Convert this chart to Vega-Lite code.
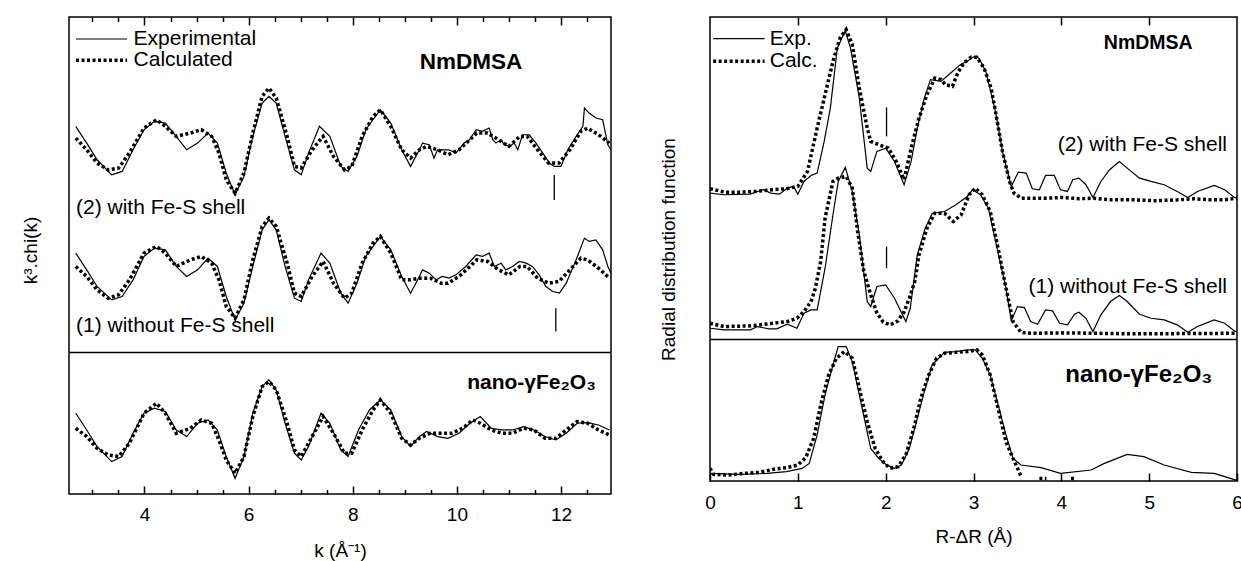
{
  "$schema": "https://vega.github.io/schema/vega-lite/v6.json",
  "background": "white",
  "padding": {"left": 20, "top": 15, "right": 2, "bottom": 0},
  "spacing": 45,
  "datasets": {
    "chi": [
      {"k":2.68,"v":36.74,"c":"2","t":"E"},{"k":2.89,"v":35.07,"c":"2","t":"E"},{"k":3.09,"v":33.40,"c":"2","t":"E"},{"k":3.37,"v":31.90,"c":"2","t":"E"},{"k":3.57,"v":32.24,"c":"2","t":"E"},{"k":3.78,"v":34.40,"c":"2","t":"E"},{"k":3.99,"v":36.40,"c":"2","t":"E"},{"k":4.19,"v":37.24,"c":"2","t":"E"},{"k":4.40,"v":37.07,"c":"2","t":"E"},{"k":4.61,"v":35.74,"c":"2","t":"E"},{"k":4.81,"v":34.40,"c":"2","t":"E"},{"k":5.02,"v":35.07,"c":"2","t":"E"},{"k":5.22,"v":36.07,"c":"2","t":"E"},{"k":5.40,"v":35.07,"c":"2","t":"E"},{"k":5.57,"v":32.07,"c":"2","t":"E"},{"k":5.74,"v":29.90,"c":"2","t":"E"},{"k":5.91,"v":31.74,"c":"2","t":"E"},{"k":6.08,"v":35.74,"c":"2","t":"E"},{"k":6.26,"v":39.07,"c":"2","t":"E"},{"k":6.39,"v":39.74,"c":"2","t":"E"},{"k":6.53,"v":39.07,"c":"2","t":"E"},{"k":6.70,"v":35.74,"c":"2","t":"E"},{"k":6.88,"v":32.40,"c":"2","t":"E"},{"k":7.01,"v":31.90,"c":"2","t":"E"},{"k":7.15,"v":34.07,"c":"2","t":"E"},{"k":7.36,"v":36.74,"c":"2","t":"E"},{"k":7.56,"v":35.74,"c":"2","t":"E"},{"k":7.77,"v":32.74,"c":"2","t":"E"},{"k":7.91,"v":32.24,"c":"2","t":"E"},{"k":8.08,"v":33.74,"c":"2","t":"E"},{"k":8.25,"v":36.40,"c":"2","t":"E"},{"k":8.53,"v":38.40,"c":"2","t":"E"},{"k":8.73,"v":37.07,"c":"2","t":"E"},{"k":8.94,"v":34.40,"c":"2","t":"E"},{"k":9.11,"v":32.74,"c":"2","t":"E"},{"k":9.28,"v":34.40,"c":"2","t":"E"},{"k":9.34,"v":35.07,"c":"2","t":"E"},{"k":9.47,"v":34.90,"c":"2","t":"E"},{"k":9.56,"v":33.57,"c":"2","t":"E"},{"k":9.63,"v":34.40,"c":"2","t":"E"},{"k":9.85,"v":34.40,"c":"2","t":"E"},{"k":9.98,"v":34.07,"c":"2","t":"E"},{"k":10.14,"v":35.07,"c":"2","t":"E"},{"k":10.24,"v":35.40,"c":"2","t":"E"},{"k":10.37,"v":36.40,"c":"2","t":"E"},{"k":10.49,"v":36.24,"c":"2","t":"E"},{"k":10.62,"v":36.57,"c":"2","t":"E"},{"k":10.69,"v":35.40,"c":"2","t":"E"},{"k":10.75,"v":35.07,"c":"2","t":"E"},{"k":10.85,"v":35.40,"c":"2","t":"E"},{"k":10.91,"v":34.90,"c":"2","t":"E"},{"k":11.01,"v":34.74,"c":"2","t":"E"},{"k":11.10,"v":35.07,"c":"2","t":"E"},{"k":11.17,"v":34.40,"c":"2","t":"E"},{"k":11.26,"v":35.90,"c":"2","t":"E"},{"k":11.39,"v":35.90,"c":"2","t":"E"},{"k":11.52,"v":35.07,"c":"2","t":"E"},{"k":11.65,"v":34.07,"c":"2","t":"E"},{"k":11.78,"v":33.07,"c":"2","t":"E"},{"k":11.87,"v":32.74,"c":"2","t":"E"},{"k":12.00,"v":32.74,"c":"2","t":"E"},{"k":12.13,"v":34.40,"c":"2","t":"E"},{"k":12.29,"v":35.74,"c":"2","t":"E"},{"k":12.42,"v":36.74,"c":"2","t":"E"},{"k":12.45,"v":38.57,"c":"2","t":"E"},{"k":12.54,"v":38.07,"c":"2","t":"E"},{"k":12.67,"v":37.57,"c":"2","t":"E"},{"k":12.80,"v":37.40,"c":"2","t":"E"},{"k":12.90,"v":34.90,"c":"2","t":"E"},{"k":12.96,"v":34.40,"c":"2","t":"E"},

      {"k":2.68,"v":35.57,"c":"2","t":"C"},{"k":2.89,"v":34.40,"c":"2","t":"C"},{"k":3.09,"v":33.07,"c":"2","t":"C"},{"k":3.30,"v":32.40,"c":"2","t":"C"},{"k":3.50,"v":32.57,"c":"2","t":"C"},{"k":3.71,"v":34.07,"c":"2","t":"C"},{"k":3.99,"v":36.57,"c":"2","t":"C"},{"k":4.23,"v":37.40,"c":"2","t":"C"},{"k":4.40,"v":36.74,"c":"2","t":"C"},{"k":4.61,"v":35.74,"c":"2","t":"C"},{"k":4.88,"v":36.07,"c":"2","t":"C"},{"k":5.09,"v":36.40,"c":"2","t":"C"},{"k":5.29,"v":35.74,"c":"2","t":"C"},{"k":5.43,"v":34.07,"c":"2","t":"C"},{"k":5.57,"v":31.40,"c":"2","t":"C"},{"k":5.74,"v":30.07,"c":"2","t":"C"},{"k":5.91,"v":32.07,"c":"2","t":"C"},{"k":6.08,"v":36.07,"c":"2","t":"C"},{"k":6.26,"v":39.74,"c":"2","t":"C"},{"k":6.39,"v":40.57,"c":"2","t":"C"},{"k":6.53,"v":39.57,"c":"2","t":"C"},{"k":6.74,"v":35.74,"c":"2","t":"C"},{"k":6.88,"v":32.74,"c":"2","t":"C"},{"k":7.01,"v":32.57,"c":"2","t":"C"},{"k":7.22,"v":34.40,"c":"2","t":"C"},{"k":7.43,"v":35.74,"c":"2","t":"C"},{"k":7.63,"v":33.74,"c":"2","t":"C"},{"k":7.84,"v":32.40,"c":"2","t":"C"},{"k":7.98,"v":32.74,"c":"2","t":"C"},{"k":8.18,"v":35.74,"c":"2","t":"C"},{"k":8.39,"v":37.74,"c":"2","t":"C"},{"k":8.53,"v":38.40,"c":"2","t":"C"},{"k":8.73,"v":36.74,"c":"2","t":"C"},{"k":8.94,"v":34.40,"c":"2","t":"C"},{"k":9.11,"v":33.57,"c":"2","t":"C"},{"k":9.28,"v":34.40,"c":"2","t":"C"},{"k":9.42,"v":34.74,"c":"2","t":"C"},{"k":9.63,"v":34.40,"c":"2","t":"C"},{"k":9.83,"v":33.90,"c":"2","t":"C"},{"k":10.04,"v":34.40,"c":"2","t":"C"},{"k":10.25,"v":35.40,"c":"2","t":"C"},{"k":10.38,"v":36.07,"c":"2","t":"C"},{"k":10.59,"v":36.07,"c":"2","t":"C"},{"k":10.80,"v":35.40,"c":"2","t":"C"},{"k":11.00,"v":34.74,"c":"2","t":"C"},{"k":11.21,"v":35.74,"c":"2","t":"C"},{"k":11.35,"v":35.74,"c":"2","t":"C"},{"k":11.55,"v":34.40,"c":"2","t":"C"},{"k":11.76,"v":33.07,"c":"2","t":"C"},{"k":11.96,"v":33.07,"c":"2","t":"C"},{"k":12.17,"v":34.40,"c":"2","t":"C"},{"k":12.38,"v":36.24,"c":"2","t":"C"},{"k":12.51,"v":36.57,"c":"2","t":"C"},{"k":12.72,"v":35.90,"c":"2","t":"C"},{"k":12.93,"v":35.07,"c":"2","t":"C"},

      {"k":2.68,"v":24.07,"c":"1","t":"E"},{"k":2.89,"v":22.40,"c":"1","t":"E"},{"k":3.09,"v":20.74,"c":"1","t":"E"},{"k":3.37,"v":19.40,"c":"1","t":"E"},{"k":3.57,"v":19.74,"c":"1","t":"E"},{"k":3.78,"v":21.40,"c":"1","t":"E"},{"k":3.99,"v":23.74,"c":"1","t":"E"},{"k":4.19,"v":24.57,"c":"1","t":"E"},{"k":4.40,"v":24.40,"c":"1","t":"E"},{"k":4.61,"v":22.74,"c":"1","t":"E"},{"k":4.81,"v":21.74,"c":"1","t":"E"},{"k":5.02,"v":22.40,"c":"1","t":"E"},{"k":5.22,"v":23.57,"c":"1","t":"E"},{"k":5.40,"v":22.74,"c":"1","t":"E"},{"k":5.57,"v":19.74,"c":"1","t":"E"},{"k":5.74,"v":17.40,"c":"1","t":"E"},{"k":5.91,"v":19.07,"c":"1","t":"E"},{"k":6.08,"v":22.74,"c":"1","t":"E"},{"k":6.26,"v":26.40,"c":"1","t":"E"},{"k":6.39,"v":27.40,"c":"1","t":"E"},{"k":6.53,"v":26.40,"c":"1","t":"E"},{"k":6.70,"v":22.74,"c":"1","t":"E"},{"k":6.88,"v":19.57,"c":"1","t":"E"},{"k":7.01,"v":19.24,"c":"1","t":"E"},{"k":7.15,"v":21.40,"c":"1","t":"E"},{"k":7.39,"v":24.07,"c":"1","t":"E"},{"k":7.56,"v":23.07,"c":"1","t":"E"},{"k":7.77,"v":20.07,"c":"1","t":"E"},{"k":7.91,"v":19.07,"c":"1","t":"E"},{"k":8.08,"v":21.07,"c":"1","t":"E"},{"k":8.25,"v":23.74,"c":"1","t":"E"},{"k":8.53,"v":25.74,"c":"1","t":"E"},{"k":8.73,"v":24.40,"c":"1","t":"E"},{"k":8.94,"v":21.74,"c":"1","t":"E"},{"k":9.11,"v":20.07,"c":"1","t":"E"},{"k":9.28,"v":21.74,"c":"1","t":"E"},{"k":9.34,"v":22.40,"c":"1","t":"E"},{"k":9.47,"v":22.07,"c":"1","t":"E"},{"k":9.60,"v":21.40,"c":"1","t":"E"},{"k":9.72,"v":21.74,"c":"1","t":"E"},{"k":9.85,"v":21.57,"c":"1","t":"E"},{"k":9.98,"v":21.90,"c":"1","t":"E"},{"k":10.17,"v":22.74,"c":"1","t":"E"},{"k":10.37,"v":23.90,"c":"1","t":"E"},{"k":10.49,"v":23.74,"c":"1","t":"E"},{"k":10.62,"v":24.07,"c":"1","t":"E"},{"k":10.72,"v":22.74,"c":"1","t":"E"},{"k":10.85,"v":23.07,"c":"1","t":"E"},{"k":10.94,"v":22.40,"c":"1","t":"E"},{"k":11.07,"v":22.74,"c":"1","t":"E"},{"k":11.20,"v":23.24,"c":"1","t":"E"},{"k":11.33,"v":23.07,"c":"1","t":"E"},{"k":11.45,"v":22.74,"c":"1","t":"E"},{"k":11.58,"v":21.90,"c":"1","t":"E"},{"k":11.71,"v":20.74,"c":"1","t":"E"},{"k":11.84,"v":20.24,"c":"1","t":"E"},{"k":11.97,"v":20.07,"c":"1","t":"E"},{"k":12.10,"v":21.07,"c":"1","t":"E"},{"k":12.29,"v":23.40,"c":"1","t":"E"},{"k":12.45,"v":25.57,"c":"1","t":"E"},{"k":12.54,"v":25.24,"c":"1","t":"E"},{"k":12.67,"v":25.40,"c":"1","t":"E"},{"k":12.80,"v":24.40,"c":"1","t":"E"},{"k":12.90,"v":22.74,"c":"1","t":"E"},{"k":12.96,"v":22.07,"c":"1","t":"E"},

      {"k":2.68,"v":22.74,"c":"1","t":"C"},{"k":2.89,"v":21.74,"c":"1","t":"C"},{"k":3.09,"v":20.40,"c":"1","t":"C"},{"k":3.30,"v":19.57,"c":"1","t":"C"},{"k":3.50,"v":19.90,"c":"1","t":"C"},{"k":3.71,"v":21.40,"c":"1","t":"C"},{"k":3.99,"v":24.07,"c":"1","t":"C"},{"k":4.23,"v":24.74,"c":"1","t":"C"},{"k":4.40,"v":24.07,"c":"1","t":"C"},{"k":4.61,"v":22.74,"c":"1","t":"C"},{"k":4.88,"v":23.40,"c":"1","t":"C"},{"k":5.09,"v":23.74,"c":"1","t":"C"},{"k":5.29,"v":23.07,"c":"1","t":"C"},{"k":5.43,"v":21.40,"c":"1","t":"C"},{"k":5.57,"v":18.74,"c":"1","t":"C"},{"k":5.74,"v":17.57,"c":"1","t":"C"},{"k":5.91,"v":19.40,"c":"1","t":"C"},{"k":6.08,"v":23.40,"c":"1","t":"C"},{"k":6.26,"v":26.74,"c":"1","t":"C"},{"k":6.39,"v":27.57,"c":"1","t":"C"},{"k":6.53,"v":26.74,"c":"1","t":"C"},{"k":6.74,"v":23.07,"c":"1","t":"C"},{"k":6.88,"v":20.07,"c":"1","t":"C"},{"k":7.01,"v":19.74,"c":"1","t":"C"},{"k":7.22,"v":21.74,"c":"1","t":"C"},{"k":7.43,"v":23.24,"c":"1","t":"C"},{"k":7.63,"v":21.07,"c":"1","t":"C"},{"k":7.84,"v":19.57,"c":"1","t":"C"},{"k":7.98,"v":20.07,"c":"1","t":"C"},{"k":8.18,"v":23.07,"c":"1","t":"C"},{"k":8.39,"v":25.07,"c":"1","t":"C"},{"k":8.53,"v":25.74,"c":"1","t":"C"},{"k":8.73,"v":24.07,"c":"1","t":"C"},{"k":8.94,"v":21.40,"c":"1","t":"C"},{"k":9.11,"v":21.40,"c":"1","t":"C"},{"k":9.28,"v":21.57,"c":"1","t":"C"},{"k":9.49,"v":21.57,"c":"1","t":"C"},{"k":9.70,"v":21.07,"c":"1","t":"C"},{"k":9.83,"v":21.07,"c":"1","t":"C"},{"k":10.04,"v":21.74,"c":"1","t":"C"},{"k":10.25,"v":22.74,"c":"1","t":"C"},{"k":10.38,"v":23.40,"c":"1","t":"C"},{"k":10.59,"v":23.24,"c":"1","t":"C"},{"k":10.80,"v":22.40,"c":"1","t":"C"},{"k":11.00,"v":21.90,"c":"1","t":"C"},{"k":11.21,"v":22.74,"c":"1","t":"C"},{"k":11.35,"v":22.74,"c":"1","t":"C"},{"k":11.55,"v":21.57,"c":"1","t":"C"},{"k":11.76,"v":21.07,"c":"1","t":"C"},{"k":11.96,"v":21.24,"c":"1","t":"C"},{"k":12.17,"v":22.40,"c":"1","t":"C"},{"k":12.38,"v":23.57,"c":"1","t":"C"},{"k":12.51,"v":23.40,"c":"1","t":"C"},{"k":12.72,"v":22.57,"c":"1","t":"C"},{"k":12.93,"v":21.57,"c":"1","t":"C"},

      {"k":2.68,"v":8.07,"c":"n","t":"E"},{"k":2.89,"v":6.40,"c":"n","t":"E"},{"k":3.09,"v":4.74,"c":"n","t":"E"},{"k":3.37,"v":3.24,"c":"n","t":"E"},{"k":3.57,"v":3.74,"c":"n","t":"E"},{"k":3.78,"v":6.07,"c":"n","t":"E"},{"k":3.99,"v":8.07,"c":"n","t":"E"},{"k":4.19,"v":8.57,"c":"n","t":"E"},{"k":4.40,"v":8.24,"c":"n","t":"E"},{"k":4.61,"v":6.40,"c":"n","t":"E"},{"k":4.81,"v":5.74,"c":"n","t":"E"},{"k":5.02,"v":7.07,"c":"n","t":"E"},{"k":5.22,"v":7.40,"c":"n","t":"E"},{"k":5.40,"v":6.40,"c":"n","t":"E"},{"k":5.57,"v":3.74,"c":"n","t":"E"},{"k":5.74,"v":1.57,"c":"n","t":"E"},{"k":5.91,"v":3.74,"c":"n","t":"E"},{"k":6.08,"v":8.07,"c":"n","t":"E"},{"k":6.26,"v":10.74,"c":"n","t":"E"},{"k":6.39,"v":11.40,"c":"n","t":"E"},{"k":6.53,"v":10.40,"c":"n","t":"E"},{"k":6.70,"v":7.07,"c":"n","t":"E"},{"k":6.88,"v":4.07,"c":"n","t":"E"},{"k":7.01,"v":3.40,"c":"n","t":"E"},{"k":7.15,"v":4.74,"c":"n","t":"E"},{"k":7.39,"v":8.07,"c":"n","t":"E"},{"k":7.56,"v":7.07,"c":"n","t":"E"},{"k":7.77,"v":4.40,"c":"n","t":"E"},{"k":7.91,"v":3.74,"c":"n","t":"E"},{"k":8.11,"v":6.40,"c":"n","t":"E"},{"k":8.32,"v":8.40,"c":"n","t":"E"},{"k":8.53,"v":9.40,"c":"n","t":"E"},{"k":8.73,"v":8.40,"c":"n","t":"E"},{"k":8.94,"v":5.74,"c":"n","t":"E"},{"k":9.11,"v":4.74,"c":"n","t":"E"},{"k":9.28,"v":5.74,"c":"n","t":"E"},{"k":9.42,"v":6.24,"c":"n","t":"E"},{"k":9.63,"v":5.74,"c":"n","t":"E"},{"k":9.83,"v":5.57,"c":"n","t":"E"},{"k":10.04,"v":6.07,"c":"n","t":"E"},{"k":10.25,"v":7.07,"c":"n","t":"E"},{"k":10.45,"v":7.74,"c":"n","t":"E"},{"k":10.66,"v":6.57,"c":"n","t":"E"},{"k":10.86,"v":6.40,"c":"n","t":"E"},{"k":11.07,"v":6.40,"c":"n","t":"E"},{"k":11.28,"v":6.74,"c":"n","t":"E"},{"k":11.48,"v":6.40,"c":"n","t":"E"},{"k":11.69,"v":5.74,"c":"n","t":"E"},{"k":11.90,"v":5.40,"c":"n","t":"E"},{"k":12.10,"v":6.07,"c":"n","t":"E"},{"k":12.31,"v":7.07,"c":"n","t":"E"},{"k":12.51,"v":7.14,"c":"n","t":"E"},{"k":12.72,"v":6.90,"c":"n","t":"E"},{"k":12.93,"v":6.40,"c":"n","t":"E"},

      {"k":2.68,"v":6.57,"c":"n","t":"C"},{"k":2.89,"v":5.74,"c":"n","t":"C"},{"k":3.09,"v":4.57,"c":"n","t":"C"},{"k":3.30,"v":3.90,"c":"n","t":"C"},{"k":3.50,"v":3.74,"c":"n","t":"C"},{"k":3.71,"v":5.07,"c":"n","t":"C"},{"k":3.99,"v":8.07,"c":"n","t":"C"},{"k":4.23,"v":9.07,"c":"n","t":"C"},{"k":4.40,"v":8.07,"c":"n","t":"C"},{"k":4.61,"v":6.07,"c":"n","t":"C"},{"k":4.88,"v":6.57,"c":"n","t":"C"},{"k":5.09,"v":7.40,"c":"n","t":"C"},{"k":5.29,"v":7.07,"c":"n","t":"C"},{"k":5.43,"v":5.40,"c":"n","t":"C"},{"k":5.57,"v":3.40,"c":"n","t":"C"},{"k":5.74,"v":2.07,"c":"n","t":"C"},{"k":5.91,"v":3.74,"c":"n","t":"C"},{"k":6.08,"v":7.74,"c":"n","t":"C"},{"k":6.26,"v":10.74,"c":"n","t":"C"},{"k":6.39,"v":11.24,"c":"n","t":"C"},{"k":6.53,"v":10.40,"c":"n","t":"C"},{"k":6.74,"v":7.07,"c":"n","t":"C"},{"k":6.88,"v":4.40,"c":"n","t":"C"},{"k":7.01,"v":3.74,"c":"n","t":"C"},{"k":7.22,"v":5.74,"c":"n","t":"C"},{"k":7.43,"v":7.74,"c":"n","t":"C"},{"k":7.63,"v":6.07,"c":"n","t":"C"},{"k":7.84,"v":4.07,"c":"n","t":"C"},{"k":7.98,"v":4.07,"c":"n","t":"C"},{"k":8.18,"v":6.40,"c":"n","t":"C"},{"k":8.39,"v":8.40,"c":"n","t":"C"},{"k":8.53,"v":9.40,"c":"n","t":"C"},{"k":8.73,"v":8.07,"c":"n","t":"C"},{"k":8.94,"v":5.57,"c":"n","t":"C"},{"k":9.11,"v":4.90,"c":"n","t":"C"},{"k":9.28,"v":5.57,"c":"n","t":"C"},{"k":9.49,"v":6.07,"c":"n","t":"C"},{"k":9.70,"v":6.07,"c":"n","t":"C"},{"k":9.90,"v":6.07,"c":"n","t":"C"},{"k":10.11,"v":6.57,"c":"n","t":"C"},{"k":10.31,"v":7.40,"c":"n","t":"C"},{"k":10.45,"v":7.07,"c":"n","t":"C"},{"k":10.66,"v":6.40,"c":"n","t":"C"},{"k":10.86,"v":6.07,"c":"n","t":"C"},{"k":11.07,"v":6.07,"c":"n","t":"C"},{"k":11.28,"v":6.57,"c":"n","t":"C"},{"k":11.48,"v":6.40,"c":"n","t":"C"},{"k":11.69,"v":5.57,"c":"n","t":"C"},{"k":11.90,"v":5.57,"c":"n","t":"C"},{"k":12.10,"v":6.40,"c":"n","t":"C"},{"k":12.31,"v":7.24,"c":"n","t":"C"},{"k":12.51,"v":7.07,"c":"n","t":"C"},{"k":12.72,"v":6.40,"c":"n","t":"C"},{"k":12.93,"v":5.90,"c":"n","t":"C"}
    ],
    "rdf": [
      {"r":0,"v":28.76,"c":"2","t":"E"},{"r":0.16,"v":28.60,"c":"2","t":"E"},{"r":0.46,"v":28.66,"c":"2","t":"E"},{"r":0.54,"v":28.93,"c":"2","t":"E"},{"r":0.61,"v":29.10,"c":"2","t":"E"},{"r":0.69,"v":28.76,"c":"2","t":"E"},{"r":0.79,"v":28.66,"c":"2","t":"E"},{"r":0.88,"v":29.26,"c":"2","t":"E"},{"r":0.95,"v":29.43,"c":"2","t":"E"},{"r":1.00,"v":28.66,"c":"2","t":"E"},{"r":1.07,"v":29.93,"c":"2","t":"E"},{"r":1.15,"v":30.53,"c":"2","t":"E"},{"r":1.22,"v":30.76,"c":"2","t":"E"},{"r":1.30,"v":33.93,"c":"2","t":"E"},{"r":1.37,"v":37.26,"c":"2","t":"E"},{"r":1.45,"v":43.26,"c":"2","t":"E"},{"r":1.54,"v":44.99,"c":"2","t":"E"},{"r":1.60,"v":43.26,"c":"2","t":"E"},{"r":1.70,"v":38.26,"c":"2","t":"E"},{"r":1.79,"v":31.26,"c":"2","t":"E"},{"r":1.83,"v":30.93,"c":"2","t":"E"},{"r":1.90,"v":32.93,"c":"2","t":"E"},{"r":2.00,"v":33.26,"c":"2","t":"E"},{"r":2.10,"v":31.93,"c":"2","t":"E"},{"r":2.21,"v":29.60,"c":"2","t":"E"},{"r":2.29,"v":31.93,"c":"2","t":"E"},{"r":2.36,"v":35.26,"c":"2","t":"E"},{"r":2.44,"v":38.26,"c":"2","t":"E"},{"r":2.51,"v":40.10,"c":"2","t":"E"},{"r":2.63,"v":39.93,"c":"2","t":"E"},{"r":2.74,"v":40.76,"c":"2","t":"E"},{"r":2.85,"v":41.60,"c":"2","t":"E"},{"r":2.93,"v":41.93,"c":"2","t":"E"},{"r":3.01,"v":42.43,"c":"2","t":"E"},{"r":3.06,"v":42.26,"c":"2","t":"E"},{"r":3.14,"v":40.93,"c":"2","t":"E"},{"r":3.25,"v":36.93,"c":"2","t":"E"},{"r":3.33,"v":32.93,"c":"2","t":"E"},{"r":3.43,"v":29.43,"c":"2","t":"E"},{"r":3.51,"v":30.86,"c":"2","t":"E"},{"r":3.60,"v":30.76,"c":"2","t":"E"},{"r":3.67,"v":29.20,"c":"2","t":"E"},{"r":3.75,"v":29.10,"c":"2","t":"E"},{"r":3.82,"v":30.53,"c":"2","t":"E"},{"r":3.92,"v":30.53,"c":"2","t":"E"},{"r":3.99,"v":29.10,"c":"2","t":"E"},{"r":4.07,"v":28.93,"c":"2","t":"E"},{"r":4.13,"v":30.10,"c":"2","t":"E"},{"r":4.20,"v":30.26,"c":"2","t":"E"},{"r":4.28,"v":29.60,"c":"2","t":"E"},{"r":4.36,"v":28.33,"c":"2","t":"E"},{"r":4.45,"v":29.93,"c":"2","t":"E"},{"r":4.55,"v":31.10,"c":"2","t":"E"},{"r":4.66,"v":31.93,"c":"2","t":"E"},{"r":4.75,"v":31.26,"c":"2","t":"E"},{"r":4.89,"v":30.26,"c":"2","t":"E"},{"r":5.02,"v":29.93,"c":"2","t":"E"},{"r":5.17,"v":29.60,"c":"2","t":"E"},{"r":5.32,"v":28.93,"c":"2","t":"E"},{"r":5.44,"v":28.33,"c":"2","t":"E"},{"r":5.55,"v":28.93,"c":"2","t":"E"},{"r":5.74,"v":29.53,"c":"2","t":"E"},{"r":5.86,"v":29.10,"c":"2","t":"E"},{"r":5.97,"v":28.33,"c":"2","t":"E"},{"r":6.0,"v":28.26,"c":"2","t":"E"},

      {"r":0,"v":29.20,"c":"2","t":"C"},{"r":0.17,"v":28.86,"c":"2","t":"C"},{"r":0.35,"v":28.86,"c":"2","t":"C"},{"r":0.52,"v":28.93,"c":"2","t":"C"},{"r":0.70,"v":29.10,"c":"2","t":"C"},{"r":0.87,"v":29.20,"c":"2","t":"C"},{"r":1.00,"v":29.43,"c":"2","t":"C"},{"r":1.11,"v":30.93,"c":"2","t":"C"},{"r":1.22,"v":35.26,"c":"2","t":"C"},{"r":1.31,"v":38.60,"c":"2","t":"C"},{"r":1.40,"v":41.93,"c":"2","t":"C"},{"r":1.48,"v":44.26,"c":"2","t":"C"},{"r":1.55,"v":45.10,"c":"2","t":"C"},{"r":1.62,"v":43.60,"c":"2","t":"C"},{"r":1.70,"v":39.26,"c":"2","t":"C"},{"r":1.79,"v":35.26,"c":"2","t":"C"},{"r":1.83,"v":33.93,"c":"2","t":"C"},{"r":1.92,"v":33.60,"c":"2","t":"C"},{"r":2.03,"v":33.26,"c":"2","t":"C"},{"r":2.12,"v":31.93,"c":"2","t":"C"},{"r":2.21,"v":30.10,"c":"2","t":"C"},{"r":2.29,"v":33.26,"c":"2","t":"C"},{"r":2.38,"v":36.26,"c":"2","t":"C"},{"r":2.47,"v":38.60,"c":"2","t":"C"},{"r":2.56,"v":40.26,"c":"2","t":"C"},{"r":2.63,"v":40.10,"c":"2","t":"C"},{"r":2.68,"v":39.60,"c":"2","t":"C"},{"r":2.76,"v":39.43,"c":"2","t":"C"},{"r":2.82,"v":40.76,"c":"2","t":"C"},{"r":2.89,"v":41.76,"c":"2","t":"C"},{"r":2.97,"v":42.33,"c":"2","t":"C"},{"r":3.04,"v":42.33,"c":"2","t":"C"},{"r":3.12,"v":41.26,"c":"2","t":"C"},{"r":3.20,"v":39.26,"c":"2","t":"C"},{"r":3.25,"v":36.93,"c":"2","t":"C"},{"r":3.33,"v":32.93,"c":"2","t":"C"},{"r":3.41,"v":29.93,"c":"2","t":"C"},{"r":3.46,"v":28.76,"c":"2","t":"C"},{"r":3.54,"v":28.26,"c":"2","t":"C"},{"r":3.85,"v":28.26,"c":"2","t":"C"},{"r":4.02,"v":28.33,"c":"2","t":"C"},{"r":4.20,"v":28.20,"c":"2","t":"C"},{"r":4.37,"v":28.26,"c":"2","t":"C"},{"r":4.55,"v":28.10,"c":"2","t":"C"},{"r":4.81,"v":28.10,"c":"2","t":"C"},{"r":5.07,"v":28.00,"c":"2","t":"C"},{"r":5.34,"v":28.10,"c":"2","t":"C"},{"r":5.51,"v":28.20,"c":"2","t":"C"},{"r":5.69,"v":28.10,"c":"2","t":"C"},{"r":5.86,"v":28.10,"c":"2","t":"C"},{"r":6.0,"v":28.26,"c":"2","t":"C"},

      {"r":0,"v":15.26,"c":"1","t":"E"},{"r":0.16,"v":15.10,"c":"1","t":"E"},{"r":0.46,"v":15.10,"c":"1","t":"E"},{"r":0.54,"v":15.43,"c":"1","t":"E"},{"r":0.67,"v":15.20,"c":"1","t":"E"},{"r":0.76,"v":15.20,"c":"1","t":"E"},{"r":0.88,"v":15.66,"c":"1","t":"E"},{"r":0.99,"v":15.26,"c":"1","t":"E"},{"r":1.07,"v":16.76,"c":"1","t":"E"},{"r":1.15,"v":17.10,"c":"1","t":"E"},{"r":1.22,"v":17.10,"c":"1","t":"E"},{"r":1.31,"v":21.26,"c":"1","t":"E"},{"r":1.40,"v":26.60,"c":"1","t":"E"},{"r":1.46,"v":29.93,"c":"1","t":"E"},{"r":1.54,"v":31.33,"c":"1","t":"E"},{"r":1.62,"v":28.93,"c":"1","t":"E"},{"r":1.70,"v":24.60,"c":"1","t":"E"},{"r":1.79,"v":17.93,"c":"1","t":"E"},{"r":1.83,"v":17.43,"c":"1","t":"E"},{"r":1.90,"v":19.43,"c":"1","t":"E"},{"r":2.00,"v":19.60,"c":"1","t":"E"},{"r":2.10,"v":18.26,"c":"1","t":"E"},{"r":2.23,"v":15.93,"c":"1","t":"E"},{"r":2.28,"v":17.26,"c":"1","t":"E"},{"r":2.36,"v":22.60,"c":"1","t":"E"},{"r":2.45,"v":25.26,"c":"1","t":"E"},{"r":2.53,"v":26.73,"c":"1","t":"E"},{"r":2.67,"v":26.93,"c":"1","t":"E"},{"r":2.80,"v":27.60,"c":"1","t":"E"},{"r":2.93,"v":28.43,"c":"1","t":"E"},{"r":2.99,"v":29.10,"c":"1","t":"E"},{"r":3.08,"v":28.60,"c":"1","t":"E"},{"r":3.17,"v":27.26,"c":"1","t":"E"},{"r":3.26,"v":23.60,"c":"1","t":"E"},{"r":3.37,"v":19.26,"c":"1","t":"E"},{"r":3.43,"v":16.00,"c":"1","t":"E"},{"r":3.50,"v":17.43,"c":"1","t":"E"},{"r":3.58,"v":17.33,"c":"1","t":"E"},{"r":3.65,"v":15.93,"c":"1","t":"E"},{"r":3.73,"v":15.66,"c":"1","t":"E"},{"r":3.82,"v":17.10,"c":"1","t":"E"},{"r":3.90,"v":17.00,"c":"1","t":"E"},{"r":3.98,"v":15.76,"c":"1","t":"E"},{"r":4.07,"v":15.60,"c":"1","t":"E"},{"r":4.15,"v":16.66,"c":"1","t":"E"},{"r":4.20,"v":16.86,"c":"1","t":"E"},{"r":4.28,"v":16.26,"c":"1","t":"E"},{"r":4.36,"v":14.93,"c":"1","t":"E"},{"r":4.45,"v":16.60,"c":"1","t":"E"},{"r":4.56,"v":17.93,"c":"1","t":"E"},{"r":4.66,"v":18.53,"c":"1","t":"E"},{"r":4.75,"v":17.93,"c":"1","t":"E"},{"r":4.89,"v":16.66,"c":"1","t":"E"},{"r":5.02,"v":16.26,"c":"1","t":"E"},{"r":5.17,"v":16.10,"c":"1","t":"E"},{"r":5.32,"v":15.60,"c":"1","t":"E"},{"r":5.44,"v":14.86,"c":"1","t":"E"},{"r":5.55,"v":15.43,"c":"1","t":"E"},{"r":5.74,"v":16.10,"c":"1","t":"E"},{"r":5.86,"v":15.76,"c":"1","t":"E"},{"r":5.97,"v":15.00,"c":"1","t":"E"},{"r":6.0,"v":14.90,"c":"1","t":"E"},

      {"r":0,"v":15.76,"c":"1","t":"C"},{"r":0.16,"v":15.43,"c":"1","t":"C"},{"r":0.46,"v":15.50,"c":"1","t":"C"},{"r":0.72,"v":15.76,"c":"1","t":"C"},{"r":0.88,"v":15.93,"c":"1","t":"C"},{"r":0.99,"v":16.26,"c":"1","t":"C"},{"r":1.07,"v":16.93,"c":"1","t":"C"},{"r":1.15,"v":17.93,"c":"1","t":"C"},{"r":1.20,"v":19.26,"c":"1","t":"C"},{"r":1.26,"v":21.93,"c":"1","t":"C"},{"r":1.31,"v":26.26,"c":"1","t":"C"},{"r":1.40,"v":29.93,"c":"1","t":"C"},{"r":1.46,"v":30.26,"c":"1","t":"C"},{"r":1.55,"v":30.43,"c":"1","t":"C"},{"r":1.62,"v":29.26,"c":"1","t":"C"},{"r":1.68,"v":25.00,"c":"1","t":"C"},{"r":1.75,"v":21.00,"c":"1","t":"C"},{"r":1.83,"v":18.60,"c":"1","t":"C"},{"r":1.90,"v":16.80,"c":"1","t":"C"},{"r":1.97,"v":15.90,"c":"1","t":"C"},{"r":2.05,"v":15.60,"c":"1","t":"C"},{"r":2.14,"v":16.00,"c":"1","t":"C"},{"r":2.21,"v":16.90,"c":"1","t":"C"},{"r":2.27,"v":18.30,"c":"1","t":"C"},{"r":2.33,"v":19.90,"c":"1","t":"C"},{"r":2.38,"v":22.60,"c":"1","t":"C"},{"r":2.47,"v":25.26,"c":"1","t":"C"},{"r":2.56,"v":26.76,"c":"1","t":"C"},{"r":2.67,"v":26.76,"c":"1","t":"C"},{"r":2.77,"v":25.93,"c":"1","t":"C"},{"r":2.86,"v":26.60,"c":"1","t":"C"},{"r":2.95,"v":28.60,"c":"1","t":"C"},{"r":3.02,"v":29.26,"c":"1","t":"C"},{"r":3.10,"v":28.60,"c":"1","t":"C"},{"r":3.19,"v":26.93,"c":"1","t":"C"},{"r":3.28,"v":23.26,"c":"1","t":"C"},{"r":3.37,"v":19.26,"c":"1","t":"C"},{"r":3.45,"v":15.93,"c":"1","t":"C"},{"r":3.54,"v":14.86,"c":"1","t":"C"},{"r":3.67,"v":14.76,"c":"1","t":"C"},{"r":4.00,"v":14.80,"c":"1","t":"C"},{"r":4.40,"v":14.76,"c":"1","t":"C"},{"r":4.80,"v":14.70,"c":"1","t":"C"},{"r":5.20,"v":14.72,"c":"1","t":"C"},{"r":5.60,"v":14.74,"c":"1","t":"C"},{"r":6.00,"v":14.76,"c":"1","t":"C"},

      {"r":0,"v":0.76,"c":"n","t":"E"},{"r":0.35,"v":0.66,"c":"n","t":"E"},{"r":0.65,"v":0.76,"c":"n","t":"E"},{"r":0.87,"v":0.93,"c":"n","t":"E"},{"r":1.05,"v":1.26,"c":"n","t":"E"},{"r":1.13,"v":1.76,"c":"n","t":"E"},{"r":1.22,"v":4.60,"c":"n","t":"E"},{"r":1.31,"v":8.60,"c":"n","t":"E"},{"r":1.40,"v":11.60,"c":"n","t":"E"},{"r":1.46,"v":13.43,"c":"n","t":"E"},{"r":1.55,"v":13.43,"c":"n","t":"E"},{"r":1.62,"v":11.93,"c":"n","t":"E"},{"r":1.70,"v":8.60,"c":"n","t":"E"},{"r":1.83,"v":3.26,"c":"n","t":"E"},{"r":1.92,"v":2.26,"c":"n","t":"E"},{"r":2.01,"v":1.60,"c":"n","t":"E"},{"r":2.10,"v":1.26,"c":"n","t":"E"},{"r":2.18,"v":1.60,"c":"n","t":"E"},{"r":2.27,"v":3.26,"c":"n","t":"E"},{"r":2.36,"v":6.26,"c":"n","t":"E"},{"r":2.45,"v":9.26,"c":"n","t":"E"},{"r":2.53,"v":11.60,"c":"n","t":"E"},{"r":2.67,"v":12.86,"c":"n","t":"E"},{"r":2.80,"v":12.93,"c":"n","t":"E"},{"r":2.93,"v":13.10,"c":"n","t":"E"},{"r":3.02,"v":13.10,"c":"n","t":"E"},{"r":3.10,"v":12.26,"c":"n","t":"E"},{"r":3.19,"v":10.60,"c":"n","t":"E"},{"r":3.28,"v":7.60,"c":"n","t":"E"},{"r":3.37,"v":4.60,"c":"n","t":"E"},{"r":3.45,"v":2.26,"c":"n","t":"E"},{"r":3.54,"v":1.60,"c":"n","t":"E"},{"r":3.77,"v":1.33,"c":"n","t":"E"},{"r":3.99,"v":0.76,"c":"n","t":"E"},{"r":4.34,"v":1.10,"c":"n","t":"E"},{"r":4.49,"v":1.76,"c":"n","t":"E"},{"r":4.75,"v":2.66,"c":"n","t":"E"},{"r":4.94,"v":2.43,"c":"n","t":"E"},{"r":5.17,"v":1.60,"c":"n","t":"E"},{"r":5.48,"v":0.86,"c":"n","t":"E"},{"r":5.74,"v":0.76,"c":"n","t":"E"},{"r":6.0,"v":0.05,"c":"n","t":"E"},

      {"r":0,"v":1.26,"c":"n","t":"C"},{"r":0.04,"v":0.66,"c":"n","t":"C"},{"r":0.21,"v":0.60,"c":"n","t":"C"},{"r":0.39,"v":0.76,"c":"n","t":"C"},{"r":0.56,"v":0.86,"c":"n","t":"C"},{"r":0.74,"v":1.20,"c":"n","t":"C"},{"r":0.87,"v":1.33,"c":"n","t":"C"},{"r":1.00,"v":1.60,"c":"n","t":"C"},{"r":1.09,"v":2.33,"c":"n","t":"C"},{"r":1.18,"v":4.26,"c":"n","t":"C"},{"r":1.26,"v":7.60,"c":"n","t":"C"},{"r":1.35,"v":10.60,"c":"n","t":"C"},{"r":1.44,"v":12.26,"c":"n","t":"C"},{"r":1.53,"v":12.93,"c":"n","t":"C"},{"r":1.62,"v":12.26,"c":"n","t":"C"},{"r":1.70,"v":9.26,"c":"n","t":"C"},{"r":1.79,"v":5.93,"c":"n","t":"C"},{"r":1.88,"v":3.26,"c":"n","t":"C"},{"r":1.97,"v":1.93,"c":"n","t":"C"},{"r":2.05,"v":1.26,"c":"n","t":"C"},{"r":2.14,"v":1.43,"c":"n","t":"C"},{"r":2.23,"v":2.60,"c":"n","t":"C"},{"r":2.32,"v":5.26,"c":"n","t":"C"},{"r":2.40,"v":8.26,"c":"n","t":"C"},{"r":2.49,"v":10.60,"c":"n","t":"C"},{"r":2.58,"v":12.26,"c":"n","t":"C"},{"r":2.67,"v":12.76,"c":"n","t":"C"},{"r":2.80,"v":12.86,"c":"n","t":"C"},{"r":2.93,"v":12.93,"c":"n","t":"C"},{"r":3.04,"v":13.10,"c":"n","t":"C"},{"r":3.10,"v":12.60,"c":"n","t":"C"},{"r":3.19,"v":10.60,"c":"n","t":"C"},{"r":3.28,"v":7.26,"c":"n","t":"C"},{"r":3.37,"v":3.93,"c":"n","t":"C"},{"r":3.45,"v":2.26,"c":"n","t":"C"},{"r":3.54,"v":0.50,"c":"n","t":"C"},
      {"r":3.75,"v":0.25,"c":"nb","t":"C"},{"r":3.83,"v":0.25,"c":"nb","t":"C"},
      {"r":4.11,"v":0.25,"c":"nc","t":"C"},{"r":4.15,"v":0.25,"c":"nc","t":"C"}
    ],
    "chiMarks": [{"k":11.87,"a":31.87,"b":29.37},{"k":11.90,"a":18.57,"b":16.24}],
    "rdfMarks": [{"r":2.01,"a":37.33,"b":34.43},{"r":2.01,"a":23.43,"b":21.26}],
    "one": [{}]
  },
  "hconcat": [
    {
      "width": 542,
      "height": 477,
      "layer": [
        {
          "data": {"name": "chi"},
          "transform": [{"filter": "datum.t === 'E'"}],
          "mark": {"type": "line", "color": "black", "strokeWidth": 1.2, "clip": true},
          "encoding": {
            "x": {"field": "k", "type": "quantitative",
                  "scale": {"domain": [2.55, 12.96], "nice": false, "zero": false},
                  "axis": {"orient": "bottom", "title": "k (Å⁻¹)",
                           "values": [3,3.5,4,4.5,5,5.5,6,6.5,7,7.5,8,8.5,9,9.5,10,10.5,11,11.5,12,12.5],
                           "labelExpr": "datum.value % 2 === 0 ? '' + datum.value : ''",
                           "tickSize": {"condition": {"test": "datum.value % 2 === 0", "value": -8}, "value": -4.5},
                           "labelPadding": 19, "titlePadding": 14}},
            "y": {"field": "v", "type": "quantitative",
                  "scale": {"domain": [0, 47.67], "nice": false, "zero": false},
                  "axis": {"title": "k³.chi(k)", "labels": false, "ticks": false, "domain": false, "minExtent": 0, "titlePadding": 29, "titleY": 233}},
            "detail": {"field": "c"}
          }
        },
        {
          "data": {"name": "chi"},
          "transform": [{"filter": "datum.t === 'C'"}],
          "mark": {"type": "line", "color": "black", "strokeWidth": 3.5, "strokeDash": [3, 2.5], "strokeCap": "butt", "clip": true},
          "encoding": {
            "x": {"field": "k", "type": "quantitative", "axis": null},
            "y": {"field": "v", "type": "quantitative"},
            "detail": {"field": "c"}
          }
        },
        {
          "data": {"name": "chiMarks"},
          "mark": {"type": "rule", "color": "black", "strokeWidth": 1.3},
          "encoding": {
            "x": {"field": "k", "type": "quantitative",
                  "axis": {"orient": "top", "title": null, "labels": false,
                           "values": [3,3.5,4,4.5,5,5.5,6,6.5,7,7.5,8,8.5,9,9.5,10,10.5,11,11.5,12,12.5],
                           "tickSize": {"condition": {"test": "datum.value % 2 === 0", "value": -8}, "value": -4.5}}},
            "y": {"field": "a", "type": "quantitative"},
            "y2": {"field": "b"}
          }
        },
        {
          "data": {"name": "one"},
          "mark": {"type": "rule", "color": "black", "strokeWidth": 1.5},
          "encoding": {"y": {"datum": 14.14, "type": "quantitative"}}
        },
        {
          "data": {"name": "one"},
          "mark": {"type": "rule", "color": "black", "strokeWidth": 1.2},
          "encoding": {"x": {"datum": 2.685, "type": "quantitative", "axis": null}, "x2": {"datum": 3.665}, "y": {"datum": 45.47, "type": "quantitative"}}
        },
        {
          "data": {"name": "one"},
          "mark": {"type": "rule", "color": "black", "strokeWidth": 3.5, "strokeDash": [3, 2.5], "strokeCap": "butt"},
          "encoding": {"x": {"datum": 2.685, "type": "quantitative", "axis": null}, "x2": {"datum": 3.665}, "y": {"datum": 43.34, "type": "quantitative"}}
        },
        {
          "data": {"name": "one"},
          "mark": {"type": "text", "fontSize": 21, "align": "left", "baseline": "middle"},
          "encoding": {"x": {"datum": 3.79, "type": "quantitative", "axis": null}, "y": {"datum": 45.47, "type": "quantitative"}, "text": {"value": "Experimental"}}
        },
        {
          "data": {"name": "one"},
          "mark": {"type": "text", "fontSize": 21, "align": "left", "baseline": "middle"},
          "encoding": {"x": {"datum": 3.79, "type": "quantitative", "axis": null}, "y": {"datum": 43.34, "type": "quantitative"}, "text": {"value": "Calculated"}}
        },
        {
          "data": {"name": "one"},
          "mark": {"type": "text", "fontSize": 22.5, "fontWeight": "bold", "align": "center", "baseline": "middle"},
          "encoding": {"x": {"datum": 10.27, "type": "quantitative", "axis": null}, "y": {"datum": 43.14, "type": "quantitative"}, "text": {"value": "NmDMSA"}}
        },
        {
          "data": {"name": "one"},
          "mark": {"type": "text", "fontSize": 21, "align": "left", "baseline": "middle"},
          "encoding": {"x": {"datum": 2.685, "type": "quantitative", "axis": null}, "y": {"datum": 28.57, "type": "quantitative"}, "text": {"value": "(2) with Fe-S shell"}}
        },
        {
          "data": {"name": "one"},
          "mark": {"type": "text", "fontSize": 21, "align": "left", "baseline": "middle"},
          "encoding": {"x": {"datum": 2.685, "type": "quantitative", "axis": null}, "y": {"datum": 16.74, "type": "quantitative"}, "text": {"value": "(1) without Fe-S shell"}}
        },
        {
          "data": {"name": "one"},
          "mark": {"type": "text", "fontSize": 21, "fontWeight": "bold", "align": "right", "baseline": "middle"},
          "encoding": {"x": {"datum": 12.67, "type": "quantitative", "axis": null}, "y": {"datum": 11.07, "type": "quantitative"}, "text": {"value": "nano-γFe₂O₃"}}
        }
      ],
      "resolve": {"axis": {"x": "independent"}}
    },
    {
      "width": 527,
      "height": 464,
      "layer": [
        {
          "data": {"name": "rdf"},
          "transform": [{"filter": "datum.t === 'E'"}],
          "mark": {"type": "line", "color": "black", "strokeWidth": 1.2, "clip": true},
          "encoding": {
            "x": {"field": "r", "type": "quantitative",
                  "scale": {"domain": [0, 6], "nice": false, "zero": false},
                  "axis": {"orient": "bottom", "title": "R-ΔR (Å)", "values": [0,1,2,3,4,5,6], "format": "d",
                           "tickSize": -8, "labelPadding": 20, "titlePadding": 15}},
            "y": {"field": "v", "type": "quantitative",
                  "scale": {"domain": [0, 46.36], "nice": false, "zero": false},
                  "axis": {"title": "Radial distribution function", "labels": false, "ticks": false, "domain": false, "minExtent": 0, "titlePadding": 32}},
            "detail": {"field": "c"}
          }
        },
        {
          "data": {"name": "rdf"},
          "transform": [{"filter": "datum.t === 'C'"}],
          "mark": {"type": "line", "color": "black", "strokeWidth": 3.5, "strokeDash": [3, 2.5], "strokeCap": "butt", "clip": true},
          "encoding": {
            "x": {"field": "r", "type": "quantitative", "axis": null},
            "y": {"field": "v", "type": "quantitative"},
            "detail": {"field": "c"}
          }
        },
        {
          "data": {"name": "rdfMarks"},
          "mark": {"type": "rule", "color": "black", "strokeWidth": 1.3},
          "encoding": {
            "x": {"field": "r", "type": "quantitative",
                  "axis": {"orient": "top", "title": null, "labels": false, "values": [1,2,3,4,5], "tickSize": -8}},
            "y": {"field": "a", "type": "quantitative"},
            "y2": {"field": "b"}
          }
        },
        {
          "data": {"name": "one"},
          "mark": {"type": "rule", "color": "black", "strokeWidth": 1.5},
          "encoding": {"y": {"datum": 14.13, "type": "quantitative"}}
        },
        {
          "data": {"name": "one"},
          "mark": {"type": "rule", "color": "black", "strokeWidth": 1.2},
          "encoding": {"x": {"datum": 0.036, "type": "quantitative", "axis": null}, "x2": {"datum": 0.621}, "y": {"datum": 44.2, "type": "quantitative"}}
        },
        {
          "data": {"name": "one"},
          "mark": {"type": "rule", "color": "black", "strokeWidth": 3.5, "strokeDash": [3, 2.5], "strokeCap": "butt"},
          "encoding": {"x": {"datum": 0.036, "type": "quantitative", "axis": null}, "x2": {"datum": 0.621}, "y": {"datum": 41.93, "type": "quantitative"}}
        },
        {
          "data": {"name": "one"},
          "mark": {"type": "text", "fontSize": 21, "align": "left", "baseline": "middle"},
          "encoding": {"x": {"datum": 0.68, "type": "quantitative", "axis": null}, "y": {"datum": 44.2, "type": "quantitative"}, "text": {"value": "Exp."}}
        },
        {
          "data": {"name": "one"},
          "mark": {"type": "text", "fontSize": 21, "align": "left", "baseline": "middle"},
          "encoding": {"x": {"datum": 0.68, "type": "quantitative", "axis": null}, "y": {"datum": 41.93, "type": "quantitative"}, "text": {"value": "Calc."}}
        },
        {
          "data": {"name": "one"},
          "mark": {"type": "text", "fontSize": 19.5, "fontWeight": "bold", "align": "center", "baseline": "middle"},
          "encoding": {"x": {"datum": 4.99, "type": "quantitative", "axis": null}, "y": {"datum": 43.76, "type": "quantitative"}, "text": {"value": "NmDMSA"}}
        },
        {
          "data": {"name": "one"},
          "mark": {"type": "text", "fontSize": 21, "align": "right", "baseline": "middle"},
          "encoding": {"x": {"datum": 5.886, "type": "quantitative", "axis": null}, "y": {"datum": 33.53, "type": "quantitative"}, "text": {"value": "(2) with Fe-S shell"}}
        },
        {
          "data": {"name": "one"},
          "mark": {"type": "text", "fontSize": 21, "align": "right", "baseline": "middle"},
          "encoding": {"x": {"datum": 5.886, "type": "quantitative", "axis": null}, "y": {"datum": 19.43, "type": "quantitative"}, "text": {"value": "(1) without Fe-S shell"}}
        },
        {
          "data": {"name": "one"},
          "mark": {"type": "text", "fontSize": 24, "fontWeight": "bold", "align": "right", "baseline": "middle"},
          "encoding": {"x": {"datum": 5.72, "type": "quantitative", "axis": null}, "y": {"datum": 10.6, "type": "quantitative"}, "text": {"value": "nano-γFe₂O₃"}}
        }
      ],
      "resolve": {"axis": {"x": "independent"}}
    }
  ],
  "config": {
    "view": {"stroke": "black", "strokeWidth": 1.5},
    "font": "Liberation Sans",
    "axis": {"grid": false, "domain": false, "labelFont": "Liberation Sans", "titleFont": "Liberation Sans",
             "labelFontSize": 19, "titleFontSize": 19, "titleFontWeight": "normal",
             "labelColor": "black", "titleColor": "black", "tickColor": "black", "tickWidth": 1.5,
             "labelFlush": false, "labelBound": false, "labelOverlap": false},
    "text": {"font": "Liberation Sans", "color": "black"}
  }
}
